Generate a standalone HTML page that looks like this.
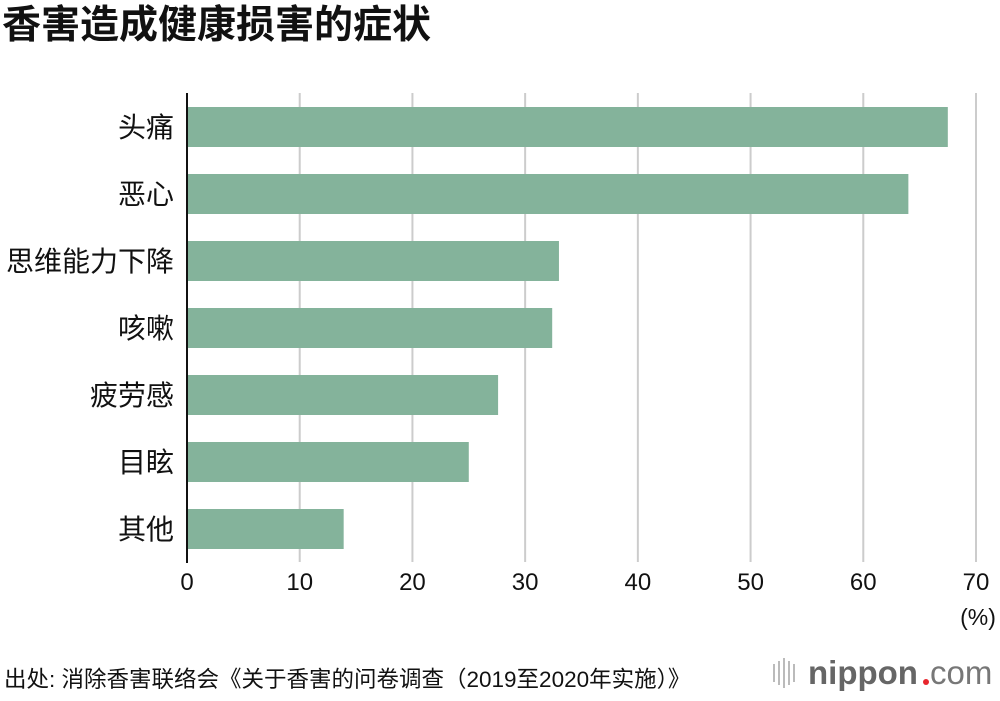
<!DOCTYPE html>
<html><head><meta charset="utf-8">
<style>
body{margin:0;width:1000px;height:696px;background:#fff;overflow:hidden;font-family:"Liberation Sans","Noto Sans CJK SC",sans-serif;}
</style></head><body>
<svg width="1000" height="696" xmlns="http://www.w3.org/2000/svg" style="font-family:'Liberation Sans','Noto Sans CJK SC',sans-serif">
<text x="2" y="38" font-size="39" font-weight="bold" fill="#111">香害造成健康损害的症状</text>
<g id="grid"></g>
<g id="bars"></g>
<line x1="187" y1="93" x2="187" y2="563" stroke="#111" stroke-width="2"/>
<g id="ylab"></g>
<g id="xlab"></g>
<text x="978" y="625" font-size="23" text-anchor="middle" fill="#111">(%)</text>
<text x="4" y="687" font-size="22.5" fill="#111">出处: 消除香害联络会《关于香害的问卷调查（2019至2020年实施）》</text>
<g>
<g stroke="#bbb" stroke-width="2">
<line x1="774" y1="664" x2="774" y2="682"/><line x1="779" y1="661" x2="779" y2="685"/><line x1="784" y1="658" x2="784" y2="688"/><line x1="789" y1="661" x2="789" y2="685"/><line x1="794" y1="664" x2="794" y2="682"/>
</g>
<text x="808" y="684" font-size="33" font-weight="bold" fill="#666">nippon</text>
<circle cx="926" cy="682" r="3" fill="#e8262d"/>
<text x="930" y="684" font-size="33" fill="#777">com</text>
</g>
</svg>
<script>
const categories=["头痛","恶心","思维能力下降","咳嗽","疲劳感","目眩","其他"];
const values=[67.5,64.0,33.0,32.4,27.6,25.0,13.9];
const ticks=[0,10,20,30,40,50,60,70];
const ns="http://www.w3.org/2000/svg";
const x=v=>187+v*(976-187)/70;
const y=i=>107+i*67;
const grid=document.getElementById('grid'),bars=document.getElementById('bars'),yl=document.getElementById('ylab'),xl=document.getElementById('xlab');
ticks.forEach(t=>{
 if(t>0){const l=document.createElementNS(ns,'line');
 l.setAttribute('x1',x(t));l.setAttribute('x2',x(t));l.setAttribute('y1',93);l.setAttribute('y2',562);
 l.setAttribute('stroke','#ccc');l.setAttribute('stroke-width','2');
 
 
 grid.appendChild(l);}
 const tx=document.createElementNS(ns,'text');
 tx.setAttribute('x',x(t));tx.setAttribute('y',590);tx.setAttribute('font-size','24');tx.setAttribute('text-anchor','middle');tx.setAttribute('fill','#111');
 tx.textContent=t;
 
 
 xl.appendChild(tx);
});
categories.forEach((c,i)=>{
 const r=document.createElementNS(ns,'rect');
 r.setAttribute('x',187);r.setAttribute('y',y(i));r.setAttribute('width',x(values[i])-187);r.setAttribute('height',40);r.setAttribute('fill','#84b39b');
 
 
 bars.appendChild(r);
 const t=document.createElementNS(ns,'text');
 t.setAttribute('x',174);t.setAttribute('y',y(i)+30);t.setAttribute('font-size','28');t.setAttribute('text-anchor','end');t.setAttribute('fill','#111');
 t.textContent=c;
 
 
 yl.appendChild(t);
});
</script>
</body></html>
